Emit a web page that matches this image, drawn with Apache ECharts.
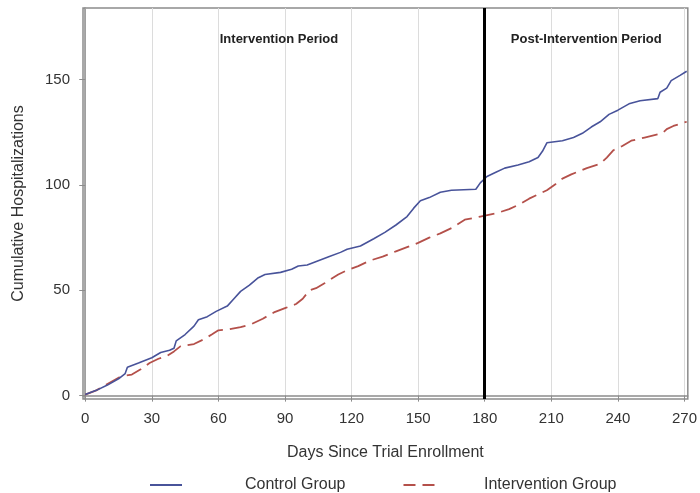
<!DOCTYPE html>
<html>
<head>
<meta charset="utf-8">
<script src="https://cdn.jsdelivr.net/npm/echarts@6.0.0/dist/echarts.min.js"></script>
<style>
  html, body { margin: 0; padding: 0; background: #fff; }
  #chart { width: 700px; height: 493px; }
</style>
</head>
<body>
<div id="chart"></div>
<script>
// tick labels
var dayTicks = [0, 30, 60, 90, 120, 150, 180, 210, 240, 270];
var countTicks = [0, 50, 100, 150];

// control group (days, cumulative hospitalizations)
var controlDays = [0, 5, 10, 15, 18, 19, 24, 30, 34, 38, 40, 41, 45, 49, 51, 55, 59, 64, 67, 70, 74, 78, 81, 88, 93, 96, 100, 105, 110, 115, 118, 124, 130, 135, 140, 145, 148, 151, 155, 160, 165, 176, 178, 181, 185, 189, 195, 200, 204, 206, 208, 215, 220, 224, 228, 232, 236, 240, 245, 250, 258, 259, 262, 264, 268, 271];
var controlCounts = [0.5, 2.5, 5, 8, 10.5, 13.5, 15.5, 18, 20.5, 21.5, 22.5, 26, 29, 33, 36, 37.5, 40, 42.5, 46, 49.5, 52.5, 56, 57.5, 58.5, 60, 61.5, 62, 64, 66, 68, 69.5, 71, 74.5, 77.5, 81, 85, 89, 92.5, 94, 96.5, 97.5, 98, 101, 104, 106, 108, 109.5, 111, 113, 116, 120, 121, 122.5, 124.5, 127.5, 130, 133.5, 135.5, 138.5, 140, 141, 144, 146, 149.5, 152, 154];

// intervention group
var interventionDays = [0, 5, 10, 15, 18, 21, 25, 29, 33, 37, 40, 43, 49, 53, 57, 60, 65, 70, 75, 80, 85, 90, 95, 98, 101, 104, 108, 114, 118, 123, 128, 134, 140, 145, 150, 155, 160, 165, 168, 171, 178, 185, 191, 196, 200, 205, 208, 212, 215, 219, 226, 232, 235, 238, 242, 246, 252, 260, 262, 265, 271];
var interventionCounts = [0.5, 2.5, 5.5, 8.5, 9.5, 10, 12.5, 15.5, 17.5, 19, 21, 23.5, 24.5, 26.5, 29, 31, 31.5, 32.5, 34, 36.5, 39.5, 41.5, 43.5, 46, 50, 51, 53.5, 57.5, 59.5, 61.5, 64, 66, 68.5, 70.5, 72.5, 75, 77, 79.5, 81.5, 83.5, 85, 86.5, 88.5, 91, 93.5, 96, 97.5, 100.5, 103, 105, 108, 110, 113, 116.5, 118.5, 121, 122.5, 124.5, 126.5, 128, 130];

var periodSplit = 180;

function pairs(xs, ys) {
  return xs.map(function (x, i) { return [x, ys[i]]; });
}

var chart = echarts.init(document.getElementById("chart"));
var font = "Liberation Sans, Arial, sans-serif";
var blue = "#48539a";
var red = "#b4504a";

chart.setOption({
  animation: false,
  textStyle: { fontFamily: font },
  grid: {
    left: 83,
    right: 8,
    top: 8,
    bottom: 94,
    containLabel: false,
    show: true,
    borderColor: "#8c8c8c",
    borderWidth: 1.5
  },
  legend: {
    left: 145,
    top: 472,
    itemWidth: 32,
    itemHeight: 2,
    itemGap: 58,
    textStyle: {
      color: "#333",
      fontSize: 16,
      fontFamily: font,
      padding: [0, 0, 0, 58]
    },
    data: [
      { name: "Control Group", icon: "path://M0,0H32V2H0Z", itemStyle: { color: blue } },
      {
        name: "Intervention Group",
        icon: "path://M0,0H12V2H0Z M19,0H31V2H19Z",
        itemStyle: { color: red },
        textStyle: { padding: [0, 0, 0, 44] }
      }
    ]
  },
  xAxis: {
    type: "value",
    min: -1,
    max: 271.5,
    name: "Days Since Trial Enrollment",
    nameLocation: "middle",
    nameGap: 46,
    nameTextStyle: { color: "#333", fontSize: 16 },
    axisLine: { show: true, lineStyle: { color: "#8c8c8c", width: 1.5 } },
    axisTick: {
      show: true,
      length: 6,
      customValues: dayTicks,
      lineStyle: { color: "#8c8c8c" }
    },
    axisLabel: {
      customValues: dayTicks,
      color: "#333",
      fontSize: 15,
      margin: 12
    },
    splitLine: { show: true, lineStyle: { color: "#dcdcdc", width: 1 } }
  },
  yAxis: {
    type: "value",
    min: -1.6,
    max: 184,
    name: "Cumulative Hospitalizations",
    nameLocation: "middle",
    nameGap: 56,
    nameTextStyle: { color: "#333", fontSize: 16 },
    axisLine: { show: true, lineStyle: { color: "#8c8c8c", width: 1.5 } },
    axisTick: {
      show: true,
      length: 6,
      customValues: countTicks,
      lineStyle: { color: "#8c8c8c" }
    },
    axisLabel: {
      customValues: countTicks,
      color: "#333",
      fontSize: 15,
      margin: 13
    },
    splitLine: { show: false }
  },
  series: [
    {
      name: "Control Group",
      type: "line",
      symbol: "none",
      data: pairs(controlDays, controlCounts),
      lineStyle: { color: blue, width: 1.6 },
      itemStyle: { color: blue },
      z: 3,
      // period labels and the divider line
      markArea: {
        silent: true,
        itemStyle: { color: "rgba(0,0,0,0)" },
        label: {
          position: "insideTop",
          distance: 25,
          color: "#222",
          fontSize: 13,
          fontWeight: "bold",
          fontFamily: font
        },
        data: [
          [{ name: "Intervention Period", xAxis: 0, label: { offset: [-6, 0] } }, { xAxis: periodSplit }],
          [{ name: "Post-Intervention Period", xAxis: periodSplit }, { xAxis: 271.5 }]
        ]
      },
      markLine: {
        silent: true,
        symbol: "none",
        label: { show: false },
        lineStyle: { color: "#000", width: 3, type: "solid" },
        data: [{ xAxis: periodSplit }]
      }
    },
    {
      name: "Intervention Group",
      type: "line",
      symbol: "none",
      data: pairs(interventionDays, interventionCounts),
      lineStyle: { color: red, width: 1.8, type: [16, 7] },
      itemStyle: { color: red },
      z: 2
    }
  ]
});
</script>
</body>
</html>
